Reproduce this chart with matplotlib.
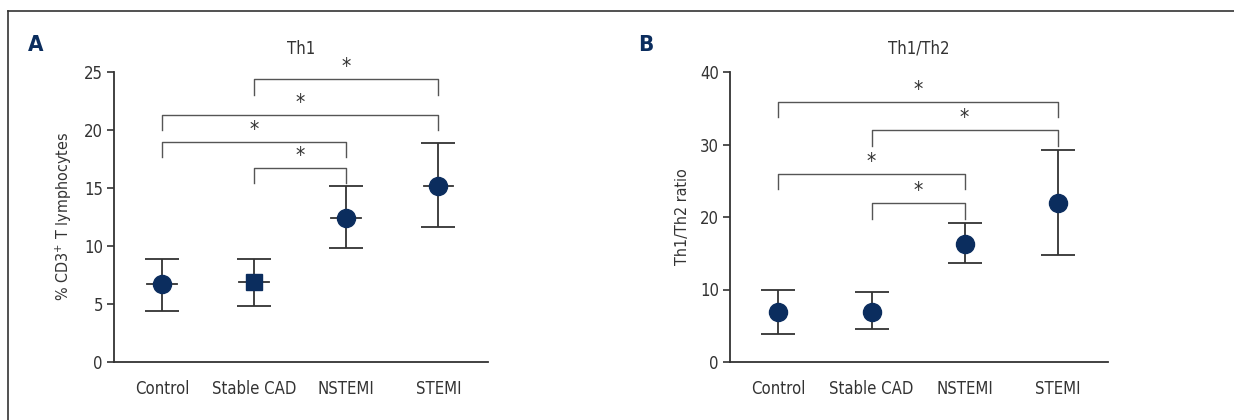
import matplotlib
matplotlib.use("Agg")
import matplotlib.pyplot as plt
from matplotlib.lines import Line2D

plt.rcParams['font.family'] = ['DejaVu Sans']
plt.rcParams['font.stretch'] = 'condensed'

categories = ["Control", "Stable CAD", "NSTEMI", "STEMI"]

# Panel A: Th1 (% CD3+ T lymphocytes)
th1_mean = [6.75, 6.87, 12.45, 15.15]
th1_upper = [8.9, 8.9, 15.15, 18.9]
th1_lower = [4.4, 4.85, 9.8, 11.6]
th1_markers = ["o", "s", "o", "o"]
# brackets: (left index, right index, bar height, leg bottom)
th1_brackets = [(1, 3, 24.4, 23.0), (0, 3, 21.3, 20.0), (0, 2, 19.0, 17.7), (1, 2, 16.75, 15.4)]

# Panel B: Th1/Th2 ratio
ratio_mean = [6.95, 6.95, 16.3, 22.0]
ratio_upper = [10.0, 9.7, 19.2, 29.25]
ratio_lower = [3.9, 4.6, 13.7, 14.7]
ratio_brackets = [(0, 3, 35.85, 33.75), (1, 3, 32.0, 29.8), (0, 2, 25.95, 23.8), (1, 2, 21.95, 19.7)]

navy = "#0b2d5e"
txt = "#333333"
axc = "#333333"
brc = "#555555"

fig = plt.figure(figsize=(12.34, 4.2), dpi=100)

def panel(rect, means, uppers, lowers, markers, brackets, ymax, ystep, ylabel, title, letter, letter_x, crossbar, star_off):
    ax = fig.add_axes(rect)
    x = list(range(len(categories)))
    for i in x:
        m = means[i]
        ax.errorbar([i], [m], yerr=[[m - lowers[i]], [uppers[i] - m]], fmt='none',
                    ecolor=axc, elinewidth=1.3, capsize=12, capthick=1.3, zorder=2)
        if crossbar:
            ax.plot([i - 0.16, i + 0.16], [m, m], color=axc, lw=1.3, zorder=2)
        ax.plot([i], [m], marker=markers[i], color=navy, ms=13 if markers[i] == 'o' else 12,
                ls='none', zorder=3)
    for (l, r, h, b) in brackets:
        ax.plot([l, l, r, r], [b, h, h, b], color=brc, lw=1.0, clip_on=False)
        ax.text((l + r) / 2, h + star_off, "*", ha='center', va='center', fontsize=15,
                color=txt, clip_on=False)
    ax.set_xlim(-0.52, 3.54)
    ax.set_ylim(0, ymax)
    ax.set_yticks(range(0, ymax + 1, ystep))
    ax.set_xticks(x)
    ax.set_xticklabels(categories)
    for s in ['top', 'right']:
        ax.spines[s].set_visible(False)
    for s in ['left', 'bottom']:
        ax.spines[s].set_color(axc)
        ax.spines[s].set_linewidth(1.3)
    ax.tick_params(axis='y', length=5, width=1.2, color=axc, labelsize=12, labelcolor=txt, pad=3)
    ax.tick_params(axis='x', length=0, labelsize=12, labelcolor=txt, pad=13)
    ax.set_ylabel(ylabel, fontsize=11.5, color=txt)
    ax.yaxis.set_label_coords(-0.107, 0.5)
    ax.set_title(title, fontsize=12, color=txt, pad=13)
    fig.text(letter_x, 1 - 45 / 420, letter, fontsize=16, fontweight='bold', color=navy,
             ha='center', va='center')
    return ax

panel([114 / 1234, 58 / 420, 374 / 1234, 290 / 420], th1_mean, th1_upper, th1_lower, th1_markers,
      th1_brackets, 25, 5, "% CD3$^{+}$ T lymphocytes", "Th1", "A", 36 / 1234, True, 1.0)
panel([730 / 1234, 58 / 420, 378 / 1234, 290 / 420], ratio_mean, ratio_upper, ratio_lower, ["o"] * 4,
      ratio_brackets, 40, 10, "Th1/Th2 ratio", "Th1/Th2", "B", 646 / 1234, False, 1.6)

# figure frame (top and left)
fig.add_artist(Line2D([8 / 1234, 1], [1 - 11 / 420, 1 - 11 / 420], color="#333333", lw=1.2))
fig.add_artist(Line2D([8 / 1234, 8 / 1234], [0, 1 - 11 / 420], color="#333333", lw=1.2))

fig.savefig("out.png", dpi=100, facecolor='white')
